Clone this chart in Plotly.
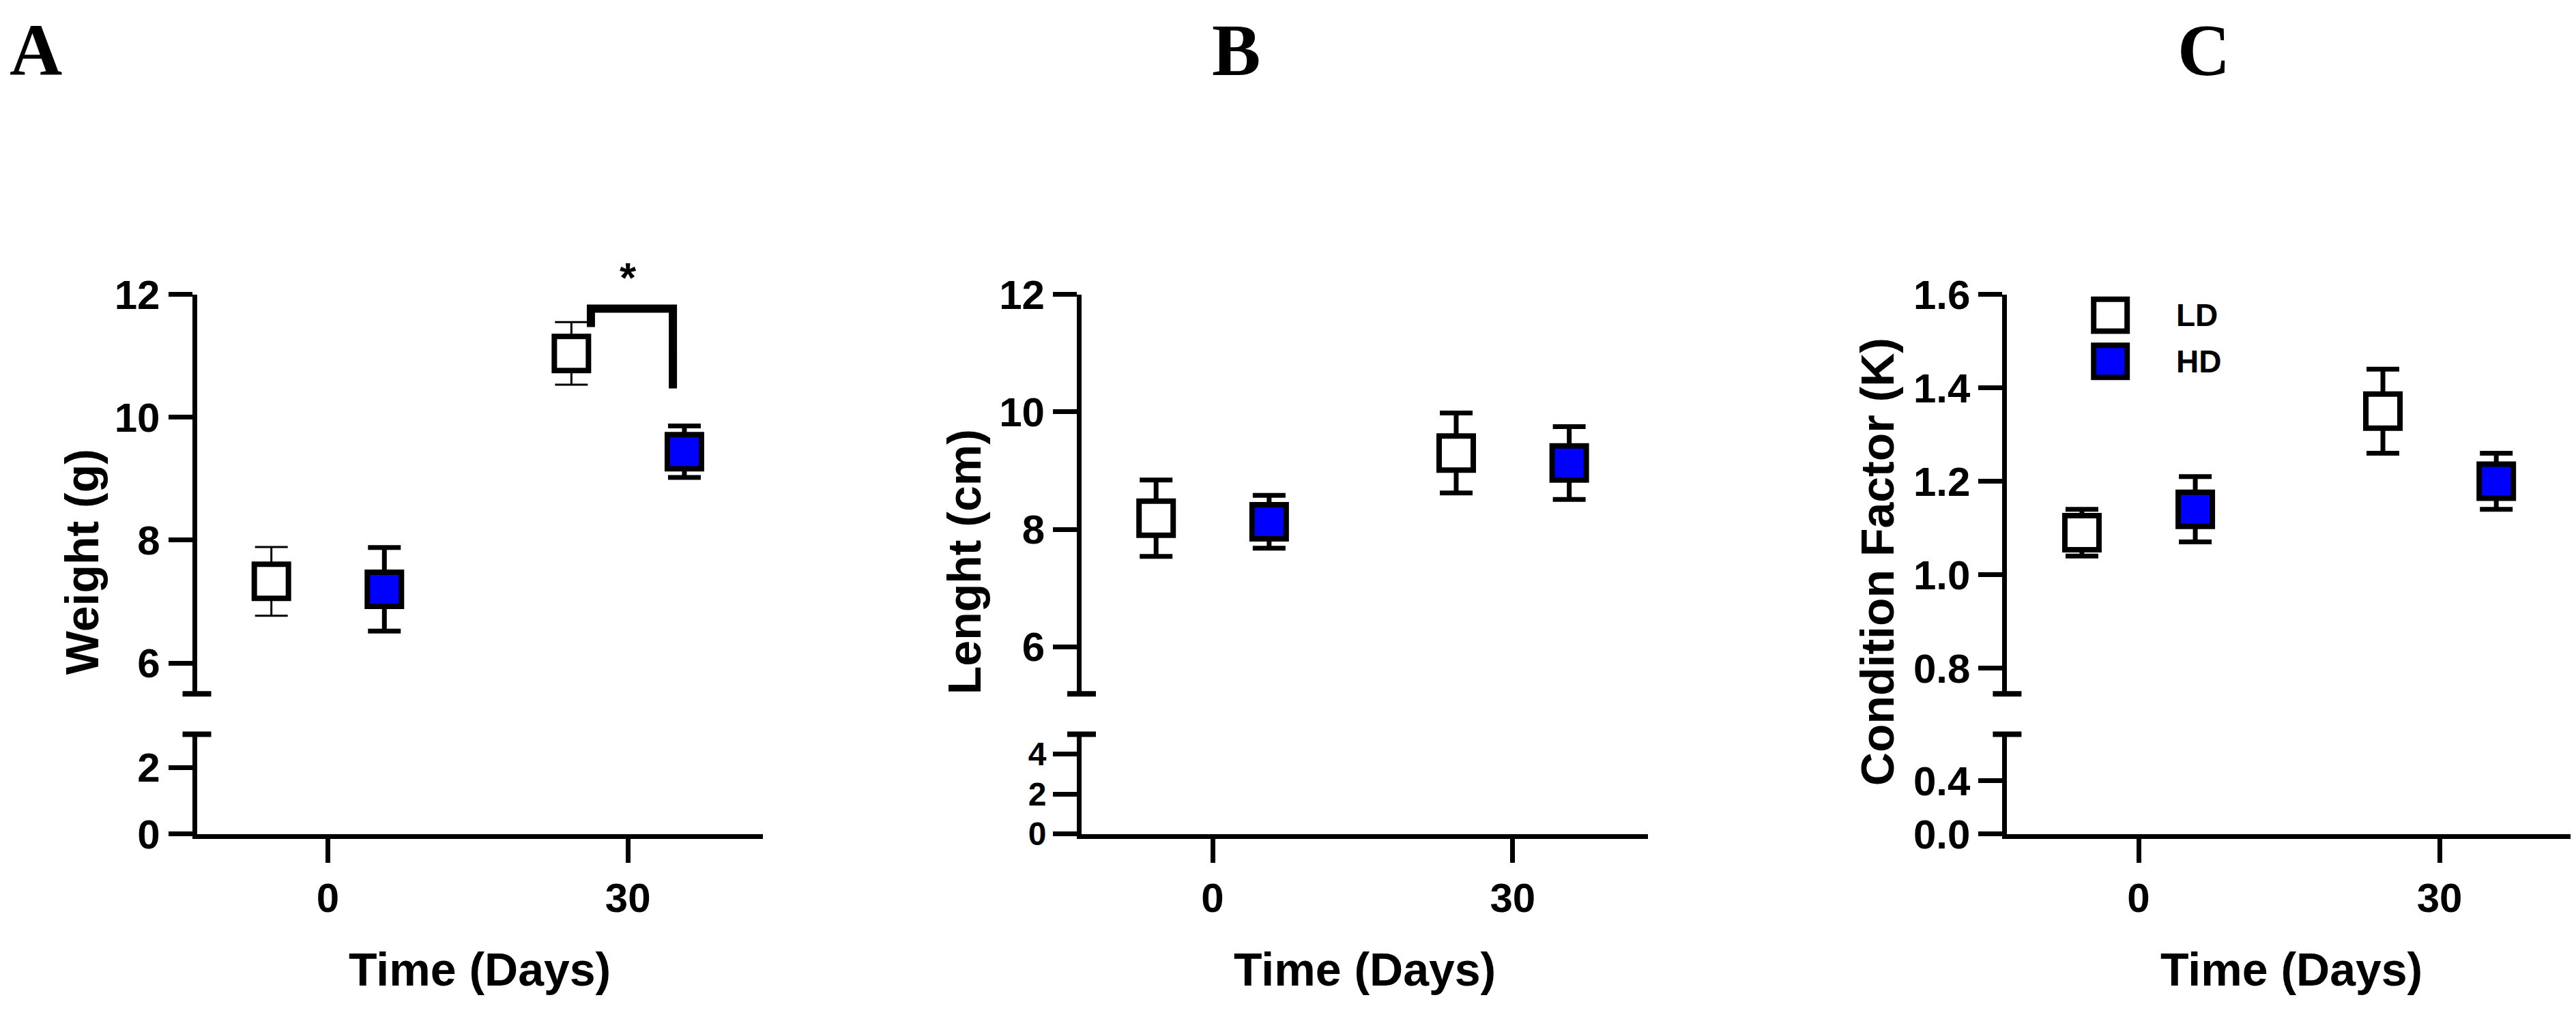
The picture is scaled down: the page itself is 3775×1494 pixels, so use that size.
import plotly.graph_objects as go

W, H = 3775, 1494

# données (moyenne ± écart-type)
days = [0, 30]
weight_ld = [7.33, 11.04]
weight_ld_sd = [0.56, 0.51]
weight_hd = [7.20, 9.44]
weight_hd_sd = [0.68, 0.42]
length_ld = [8.19, 9.30]
length_ld_sd = [0.65, 0.68]
length_hd = [8.13, 9.13]
length_hd_sd = [0.45, 0.62]
k_ld = [1.09, 1.35]
k_ld_sd = [0.05, 0.09]
k_hd = [1.14, 1.20]
k_hd_sd = [0.07, 0.06]

groups = ["LD", "HD"]
panel_letters = ["A", "B", "C"]
y_titles = ["Weight (g)", "Lenght (cm)", "Condition Factor (K)"]
x_title = "Time (Days)"

# axes coupés : (bas, haut)
lower_ranges = [[0, 3], [0, 5], [0, 0.75]]
lower_ticks = [[0, 2], [0, 2, 4], [0.0, 0.4]]
upper_ranges = [[5.5, 12], [5.2, 12], [0.745, 1.6]]
upper_ticks = [[6, 8, 10, 12], [6, 8, 10, 12], [0.8, 1.0, 1.2, 1.4, 1.6]]
tick_formats = ["", "", ".1f"]

# bracket de significativité (panel A)
sig_x = [26.3, 34.5]
sig_y = [11.47, 11.77, 10.47]
sig_label = "*"
sig_label_y = 12.28

# mise en page (pixels)
dodge = 5.65
x_range = [-13.1, 43.5]
panel_px = [(280.5, 1110), (1577, 2406.7), (2933.4, 3765.6)]
upper_px = (409, 1022)
lower_px = (1084, 1237)
letter_px = [44, 1803.5, 3221]
ytitle_px = [112, 1405, 2743]
lower_tick_size = [60, 48, 60]  # B : graduations serrées

FONT = "Liberation Sans, Arial, sans-serif"
SERIF = "Liberation Serif, Times New Roman, serif"
BLUE = "#0000FF"


def px(x):
    return x / W


def py(y):
    return 1 - y / H


panels = [
    (weight_ld, weight_ld_sd, weight_hd, weight_hd_sd),
    (length_ld, length_ld_sd, length_hd, length_hd_sd),
    (k_ld, k_ld_sd, k_hd, k_hd_sd),
]

fig = go.Figure()
layout = dict(
    width=W, height=H,
    margin=dict(l=0, r=0, t=0, b=0),
    paper_bgcolor="white", plot_bgcolor="white",
    showlegend=False,
)
shapes = []
annotations = []


def tickfont(size=60):
    return dict(family=FONT, size=size, color="black", weight="bold")


for i, (ld, ld_sd, hd, hd_sd) in enumerate(panels):
    xa = "x" if i == 0 else f"x{i + 1}"
    ylo = "y" if i == 0 else f"y{2 * i + 1}"
    yup = f"y{2 * i + 2}"
    xkey = "xaxis" if i == 0 else f"xaxis{i + 1}"
    ylokey = "yaxis" if i == 0 else f"yaxis{2 * i + 1}"
    yupkey = f"yaxis{2 * i + 2}"
    x0, x1 = panel_px[i]

    layout[xkey] = dict(
        domain=[px(x0), px(x1)], range=x_range, anchor=ylo,
        showline=True, linewidth=7, linecolor="black",
        ticks="outside", ticklen=35, tickwidth=7, tickcolor="black",
        tickvals=days, tickfont=tickfont(), showgrid=False, zeroline=False,
    )
    common_y = dict(
        anchor=xa, showline=True, linewidth=7, linecolor="black",
        ticks="outside", ticklen=35, tickwidth=7, tickcolor="black",
        showgrid=False, zeroline=False, tickformat=tick_formats[i],
    )
    layout[ylokey] = dict(
        domain=[py(lower_px[1]), py(lower_px[0])], range=lower_ranges[i],
        tickvals=lower_ticks[i], tickfont=tickfont(lower_tick_size[i]), **common_y,
    )
    layout[yupkey] = dict(
        domain=[py(upper_px[1]), py(upper_px[0])], range=upper_ranges[i],
        tickvals=upper_ticks[i], tickfont=tickfont(), **common_y,
    )

    # trace vide pour que le segment bas (et l'axe x) soit dessiné
    fig.add_trace(go.Scatter(x=[], y=[], xaxis=xa, yaxis=ylo, mode="markers",
                             hoverinfo="skip", showlegend=False))

    ld_thick = 3 if i == 0 else 7
    fig.add_trace(go.Scatter(
        x=[d - dodge for d in days], y=ld, xaxis=xa, yaxis=yup,
        mode="markers", name=groups[0],
        marker=dict(symbol="square", size=50, color="white",
                    line=dict(color="black", width=8)),
        error_y=dict(type="data", array=ld_sd, color="black",
                     thickness=ld_thick, width=24),
    ))
    fig.add_trace(go.Scatter(
        x=[d + dodge for d in days], y=hd, xaxis=xa, yaxis=yup,
        mode="markers", name=groups[1],
        marker=dict(symbol="square", size=50, color=BLUE,
                    line=dict(color="black", width=8)),
        error_y=dict(type="data", array=hd_sd, color="black",
                     thickness=7, width=24),
    ))

    # marques de coupure de l'axe y
    for yb in (upper_px[1], lower_px[0]):
        shapes.append(dict(type="line", xref="paper", yref="paper",
                           x0=px(x0 - 21), x1=px(x0 + 21), y0=py(yb), y1=py(yb),
                           line=dict(color="black", width=8)))

    annotations.append(dict(
        text=panel_letters[i], x=px(letter_px[i]), y=py(35), xref="paper", yref="paper",
        showarrow=False, xanchor="center", yanchor="middle",
        font=dict(family=SERIF, size=107, color="black", weight="bold"),
    ))
    annotations.append(dict(
        text=y_titles[i], x=px(ytitle_px[i]), y=py(820), xref="paper", yref="paper",
        showarrow=False, textangle=-90, xanchor="center", yanchor="middle",
        font=dict(family=FONT, size=68, color="black", weight="bold"),
    ))
    annotations.append(dict(
        text=x_title, x=px((x0 + x1) / 2), y=py(1445), xref="paper", yref="paper",
        showarrow=False, xanchor="center", yanchor="middle",
        font=dict(family=FONT, size=68, color="black", weight="bold"),
    ))

# bracket * (panel A)
shapes.append(dict(
    type="path", xref="x", yref="y2",
    path=f"M {sig_x[0]},{sig_y[0]} L {sig_x[0]},{sig_y[1]} L {sig_x[1]},{sig_y[1]} L {sig_x[1]},{sig_y[2]}",
    line=dict(color="black", width=12),
))
# l'étoile est au-dessus du haut de l'axe : position convertie en coordonnées papier
up_lo, up_hi = upper_ranges[0]
star_frac = (sig_label_y - up_lo) / (up_hi - up_lo)
star_y = py(upper_px[1]) + star_frac * (py(upper_px[0]) - py(upper_px[1]))
star_x = px(panel_px[0][0]) + (days[1] - x_range[0]) / (x_range[1] - x_range[0]) * (
    px(panel_px[0][1]) - px(panel_px[0][0]))
annotations.append(dict(
    text=sig_label, x=star_x, y=star_y, xref="paper", yref="paper",
    showarrow=False, xanchor="center", yanchor="middle",
    font=dict(family=FONT, size=62, color="black", weight="bold"),
))

# légende (panel C)
for j, (g, fill) in enumerate(zip(groups, ["white", BLUE])):
    cy = 441 + j * 70.7
    shapes.append(dict(type="rect", xref="paper", yref="paper",
                       x0=px(3084.7 - 24.5), x1=px(3084.7 + 24.5),
                       y0=py(cy + 24.5), y1=py(cy - 24.5),
                       fillcolor=fill, line=dict(color="black", width=8)))
    annotations.append(dict(
        text=g, x=px(3179), y=py(cy), xref="paper", yref="paper",
        showarrow=False, xanchor="left", yanchor="middle",
        font=dict(family=FONT, size=46, color="black", weight="bold"),
    ))

layout["shapes"] = shapes
layout["annotations"] = annotations
fig.update_layout(**layout)

fig.write_html("out.html")
